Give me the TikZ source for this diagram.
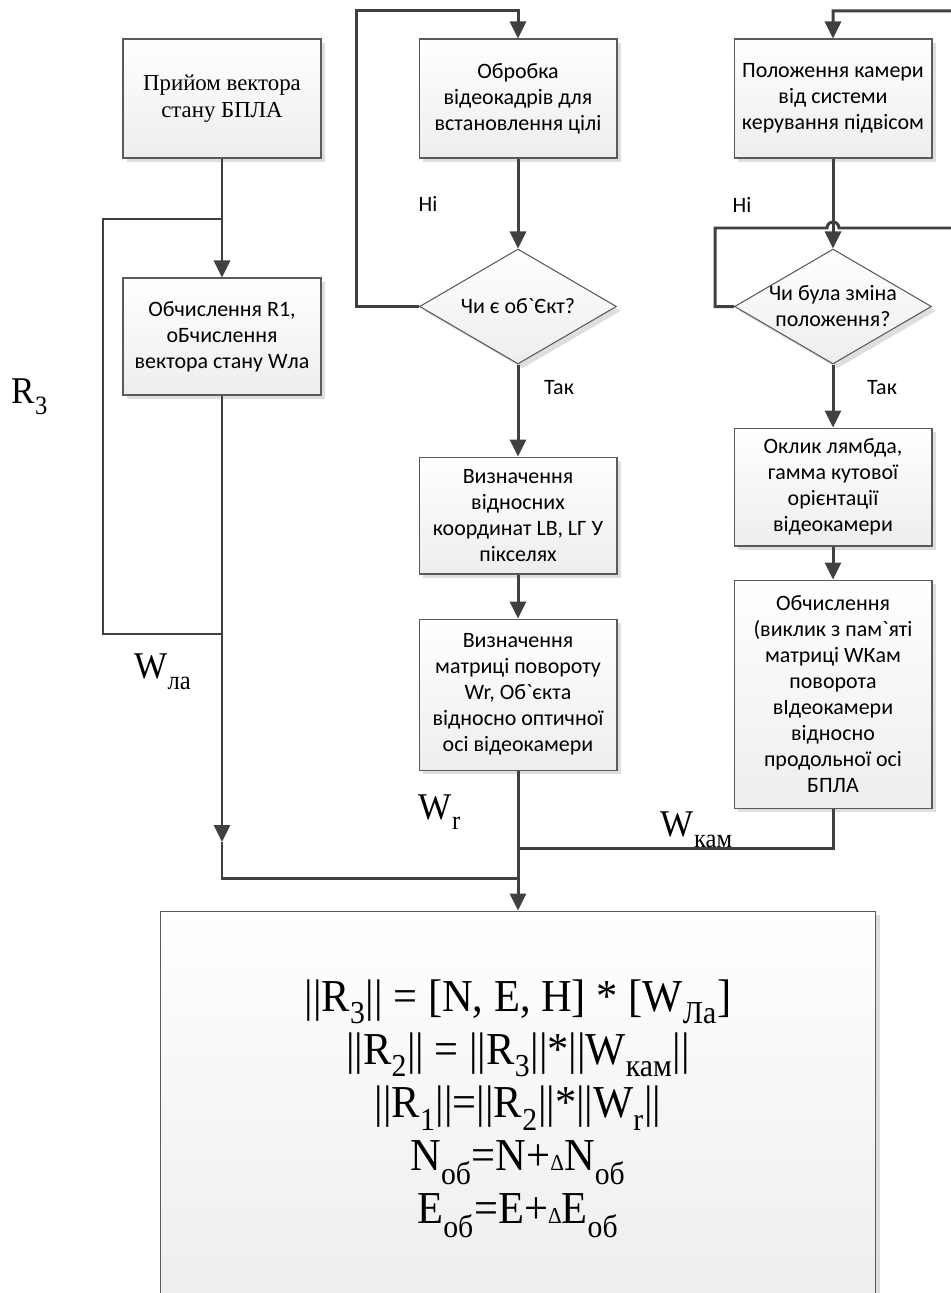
\documentclass[tikz,border=0pt]{standalone}
\usepackage{fontspec}
\newfontfamily\boxfont[Ligatures=TeXOff]{Carlito}
\newfontfamily\serfont{Liberation Serif}
\newfontfamily\eqfont[FakeStretch=0.93]{Liberation Serif}
\usetikzlibrary{shapes.geometric, arrows.meta, positioning, shadows}
\definecolor{linegray}{HTML}{404040}
\definecolor{edgegray}{HTML}{5A5A5A}
\newcommand{\low}[1]{\raisebox{-0.3ex}{\textsubscript{#1}}}
\newcommand{\dlt}{{\fontsize{13}{13}\selectfont Δ}}

\begin{document}
\begin{tikzpicture}[
    x=0.02cm, y=-0.02cm,
    block/.style={rectangle, draw=edgegray, line width=0.6pt, top color=white, bottom color=black!7,
        minimum width=3.96cm, align=center, inner sep=2pt, font=\boxfont\fontsize{12.5}{14.8}\selectfont,
        drop shadow={shadow xshift=2.5pt, shadow yshift=-2.5pt, fill=black!13, opacity=1}},
    decision/.style={diamond, aspect=1.71, draw=edgegray, line width=0.6pt, top color=white, bottom color=black!7,
        minimum width=3.94cm, minimum height=2.3cm, inner sep=0pt, align=center, font=\boxfont\fontsize{12.5}{14.8}\selectfont,
        drop shadow={shadow xshift=2.5pt, shadow yshift=-2.5pt, fill=black!13, opacity=1}},
    flow/.style={draw=linegray, line width=1.7pt},
    arrow/.style={flow, -{Triangle[length=0.34cm, width=0.32cm]}},
    note/.style={font=\boxfont\fontsize{12.5}{14.8}\selectfont, align=center},
    sym/.style={font=\eqfont\fontsize{21.5}{24}\selectfont, inner sep=0pt}
]
    \useasboundingbox (0,0) rectangle (950,1293);

    % UAV state column
    \node[block, minimum height=2.38cm, font=\serfont\fontsize{13}{15.5}\selectfont] (recv) at (222,98.5) {Прийом вектора\\стану БПЛА};
    \node[block, minimum height=2.34cm, below=2.38cm of recv] (calcw) {Обчислення R1,\\оБчислення\\вектора стану Wла};

    % Video frames column
    \node[block, minimum height=2.38cm] (frames) at (518,98.5) {Обробка\\відеокадрів для\\встановлення цілі};
    \node[decision, below=1.8cm of frames] (isobj) {Чи є об`Єкт?};
    \node[block, minimum height=2.34cm, below=1.84cm of isobj] (coords) {Визначення\\відносних\\координат LB, LГ У\\пікселях};
    \node[block, minimum height=3.02cm, below=0.88cm of coords] (rotr) {Визначення\\матриці повороту\\Wr, Об`єкта\\відносно оптичної\\осі відеокамери};

    % Camera column
    \node[block, minimum height=2.38cm] (campos) at (833,98.5) {Положення камери\\від системи\\керування підвісом};
    \node[decision, below=1.8cm of campos] (changed) {};
    \node[note] (changedtxt) at (changed) {Чи була зміна\\положення?};
    \node[block, minimum height=2.36cm, below=1.26cm of changed] (angles) {Оклик лямбда,\\гамма кутової\\орієнтації\\відеокамери};
    \node[block, minimum height=4.56cm, below=0.66cm of angles] (wcam) {Обчислення\\(виклик з пам`яті\\матриці WКам\\поворота\\вІдеокамери\\відносно\\продольної осі\\БПЛА};

    % Result
    \node[block, minimum width=14.3cm, minimum height=7.9cm, below=2.8cm of rotr, font=\eqfont\fontsize{26}{30.2}\selectfont] (result)
        {||R\low{3}|| = [N, E, H] * [W\low{Ла}]\\
         ||R\low{2}|| = ||R\low{3}||*||W\low{кам}||\\
         ||R\low{1}||=||R\low{2}||*||W\low{r}||\\
         N\low{об}=N+\dlt N\low{об}\\
         E\low{об}=E+\dlt E\low{об}};

    % Arrows
    \coordinate (fbtop) at (222,219);
    \coordinate (fbbot) at (222,634);
    \coordinate (tipla) at (222,842);
    \coordinate (mergel) at (222,878);
    \coordinate (mergec) at (833,848);
    \draw[arrow] (recv) -- (calcw);
    \draw[flow] (fbtop) -| (103,634) -- (fbbot);
    \draw[arrow] (calcw) -- (tipla);
    \draw[flow] (tipla) -- (mergel) -- (mergel -| rotr);

    \draw[arrow] (frames) -- (isobj);
    \draw[arrow] (isobj.west) -| (356,11) -| (frames.north);
    \draw[arrow] (isobj) -- (coords);
    \draw[arrow] (coords) -- (rotr);
    \draw[arrow] (rotr) -- (result);

    \draw[arrow] (campos) -- (changed);
    \draw[arrow] (changed.west) -| (715,228) -- (827,228) arc[start angle=180, end angle=0, radius=0.12cm] -- (960,228) |- (833,11) -- (campos.north);
    \draw[arrow] (changed) -- (angles);
    \draw[arrow] (angles) -- (wcam);
    \draw[flow] (wcam.south) |- (mergec -| rotr);

    % Labels
    \node[note] (no1) at (428,204) {Ні};
    \node[note] (yes1) at (559,388) {Так};
    \node[note] (no2) at (742,205) {Ні};
    \node[note] (yes2) at (882,388) {Так};
    \node[sym] (r3) at (30,397) {R\low{3}};
    \node[sym] (wla) at (163,672) {W\low{ла}};
    \node[sym] (wr) at (440,812) {W\low{r}};
    \node[sym] (wkam) at (697,830) {W\low{кам}};

\end{tikzpicture}
\end{document}
